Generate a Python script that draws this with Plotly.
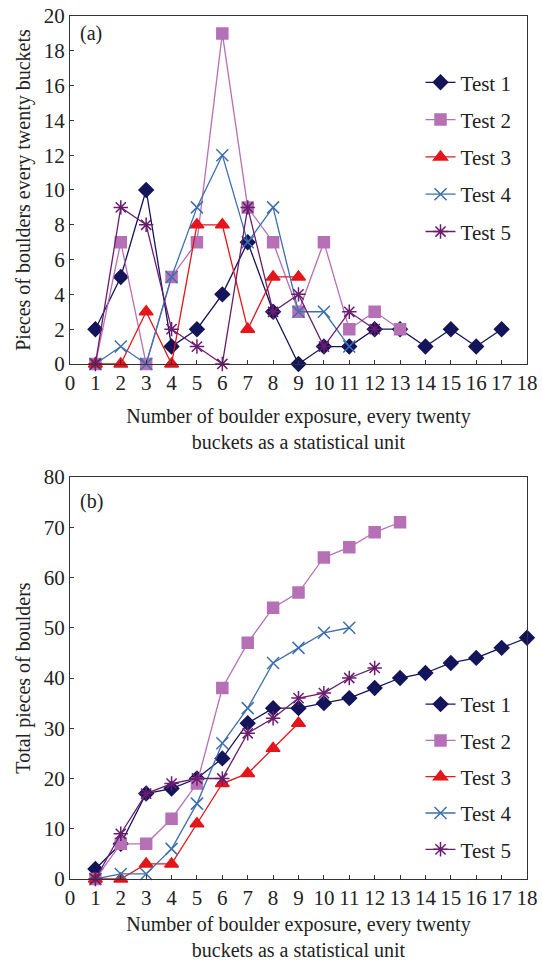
import plotly.graph_objects as go
from plotly.subplots import make_subplots

names = ["Test 1", "Test 2", "Test 3", "Test 4", "Test 5"]
per20_t1 = [2, 5, 10, 1, 2, 4, 7, 3, 0, 1, 1, 2, 2, 1, 2, 1, 2]
per20_t2 = [0, 7, 0, 5, 7, 19, 9, 7, 3, 7, 2, 3, 2]
per20_t3 = [0, 0, 3, 0, 8, 8, 2, 5, 5]
per20_t4 = [0, 1, 0, 5, 9, 12, 7, 9, 3, 3, 1]
per20_t5 = [0, 9, 8, 2, 1, 0, 9, 3, 4, 1, 3, 2]

total_t1 = [2, 7, 17, 18, 20, 24, 31, 34, 34, 35, 36, 38, 40, 41, 43, 44, 46, 48]
total_t2 = [0, 7, 7, 12, 19, 38, 47, 54, 57, 64, 66, 69, 71]
total_t3 = [0, 0, 3, 3, 11, 19, 21, 26, 31]
total_t4 = [0, 1, 1, 6, 15, 27, 34, 43, 46, 49, 50]
total_t5 = [0, 9, 17, 19, 20, 20, 29, 32, 36, 37, 40, 42]

x_ticks = list(range(0, 19))

colors = ["#14145a", "#b670b6", "#e3161b", "#3d6fae", "#6a1c6e"]
symbols = ["diamond", "square", "triangle-up", "x-thin-open", "asterisk-open"]
sizes = [11, 11, 12, 12, 12]

FONT = "Liberation Serif"
TXT = "#222"

fig = make_subplots(rows=2, cols=1, vertical_spacing=0.0)

top_data = [per20_t1, per20_t2, per20_t3, per20_t4, per20_t5]
bot_data = [total_t1, total_t2, total_t3, total_t4, total_t5]

for i, (nm, ys) in enumerate(zip(names, top_data)):
    fig.add_trace(go.Scatter(
        x=list(range(1, len(ys) + 1)), y=ys, name=nm, mode="lines+markers",
        line=dict(color=colors[i], width=1.3),
        marker=dict(symbol=symbols[i], size=sizes[i], color=colors[i],
                    line=dict(color=colors[i], width=1.5)),
        cliponaxis=False, legend="legend", legendgroup="a" + str(i)),
        row=1, col=1)

for i, (nm, ys) in enumerate(zip(names, bot_data)):
    fig.add_trace(go.Scatter(
        x=list(range(1, len(ys) + 1)), y=ys, name=nm, mode="lines+markers",
        line=dict(color=colors[i], width=1.3),
        marker=dict(symbol=symbols[i], size=sizes[i], color=colors[i],
                    line=dict(color=colors[i], width=1.5)),
        cliponaxis=False, legend="legend2", legendgroup="b" + str(i)),
        row=2, col=1)

axis_common = dict(showline=True, linecolor="#333", linewidth=1.2, mirror=True,
                   ticks="inside", ticklen=4, tickcolor="#333",
                   showgrid=False, zeroline=False, automargin=False,
                   tickfont=dict(family=FONT, size=21, color=TXT))

xtitle = "Number of boulder exposure, every twenty<br>buckets as a statistical unit"

fig.update_xaxes(range=[0, 18], tickvals=x_ticks, ticktext=[str(v) for v in x_ticks],
                 title=dict(text=xtitle, font=dict(family=FONT, size=20, color=TXT), standoff=14),
                 **axis_common)
fig.update_yaxes(row=1, col=1, range=[0, 20], dtick=2,
                 title=dict(text="Pieces of boulders every twenty buckets",
                            font=dict(family=FONT, size=20, color=TXT), standoff=7),
                 **axis_common)
fig.update_yaxes(row=2, col=1, range=[0, 80], dtick=10,
                 title=dict(text="Total pieces of boulders",
                            font=dict(family=FONT, size=20, color=TXT), standoff=7),
                 **axis_common)

fig.update_layout(
    width=542, height=961,
    margin=dict(l=70, r=15, t=16, b=82),
    paper_bgcolor="white", plot_bgcolor="white",
    showlegend=True,
    legend=dict(x=0.767, y=0.9465, xanchor="left", yanchor="top",
                font=dict(family=FONT, size=21, color=TXT),
                bgcolor="rgba(255,255,255,0)", tracegroupgap=7),
    legend2=dict(x=0.767, y=0.226, xanchor="left", yanchor="top",
                 font=dict(family=FONT, size=21, color=TXT),
                 bgcolor="rgba(255,255,255,0)", tracegroupgap=6),
    annotations=[
        dict(text="(a)", x=0.0175, y=0.980, xref="paper", yref="paper",
             xanchor="left", yanchor="middle", showarrow=False,
             font=dict(family=FONT, size=20, color=TXT)),
        dict(text="(b)", x=0.0175, y=0.4369, xref="paper", yref="paper",
             xanchor="left", yanchor="middle", showarrow=False,
             font=dict(family=FONT, size=20, color=TXT)),
    ],
)
fig.update_yaxes(row=1, col=1, domain=[0.5968, 1.0])
fig.update_yaxes(row=2, col=1, domain=[0.0, 0.4658])

fig.write_html("out.html", config={"displayModeBar": False},
               post_script="document.body.style.margin='0';")
